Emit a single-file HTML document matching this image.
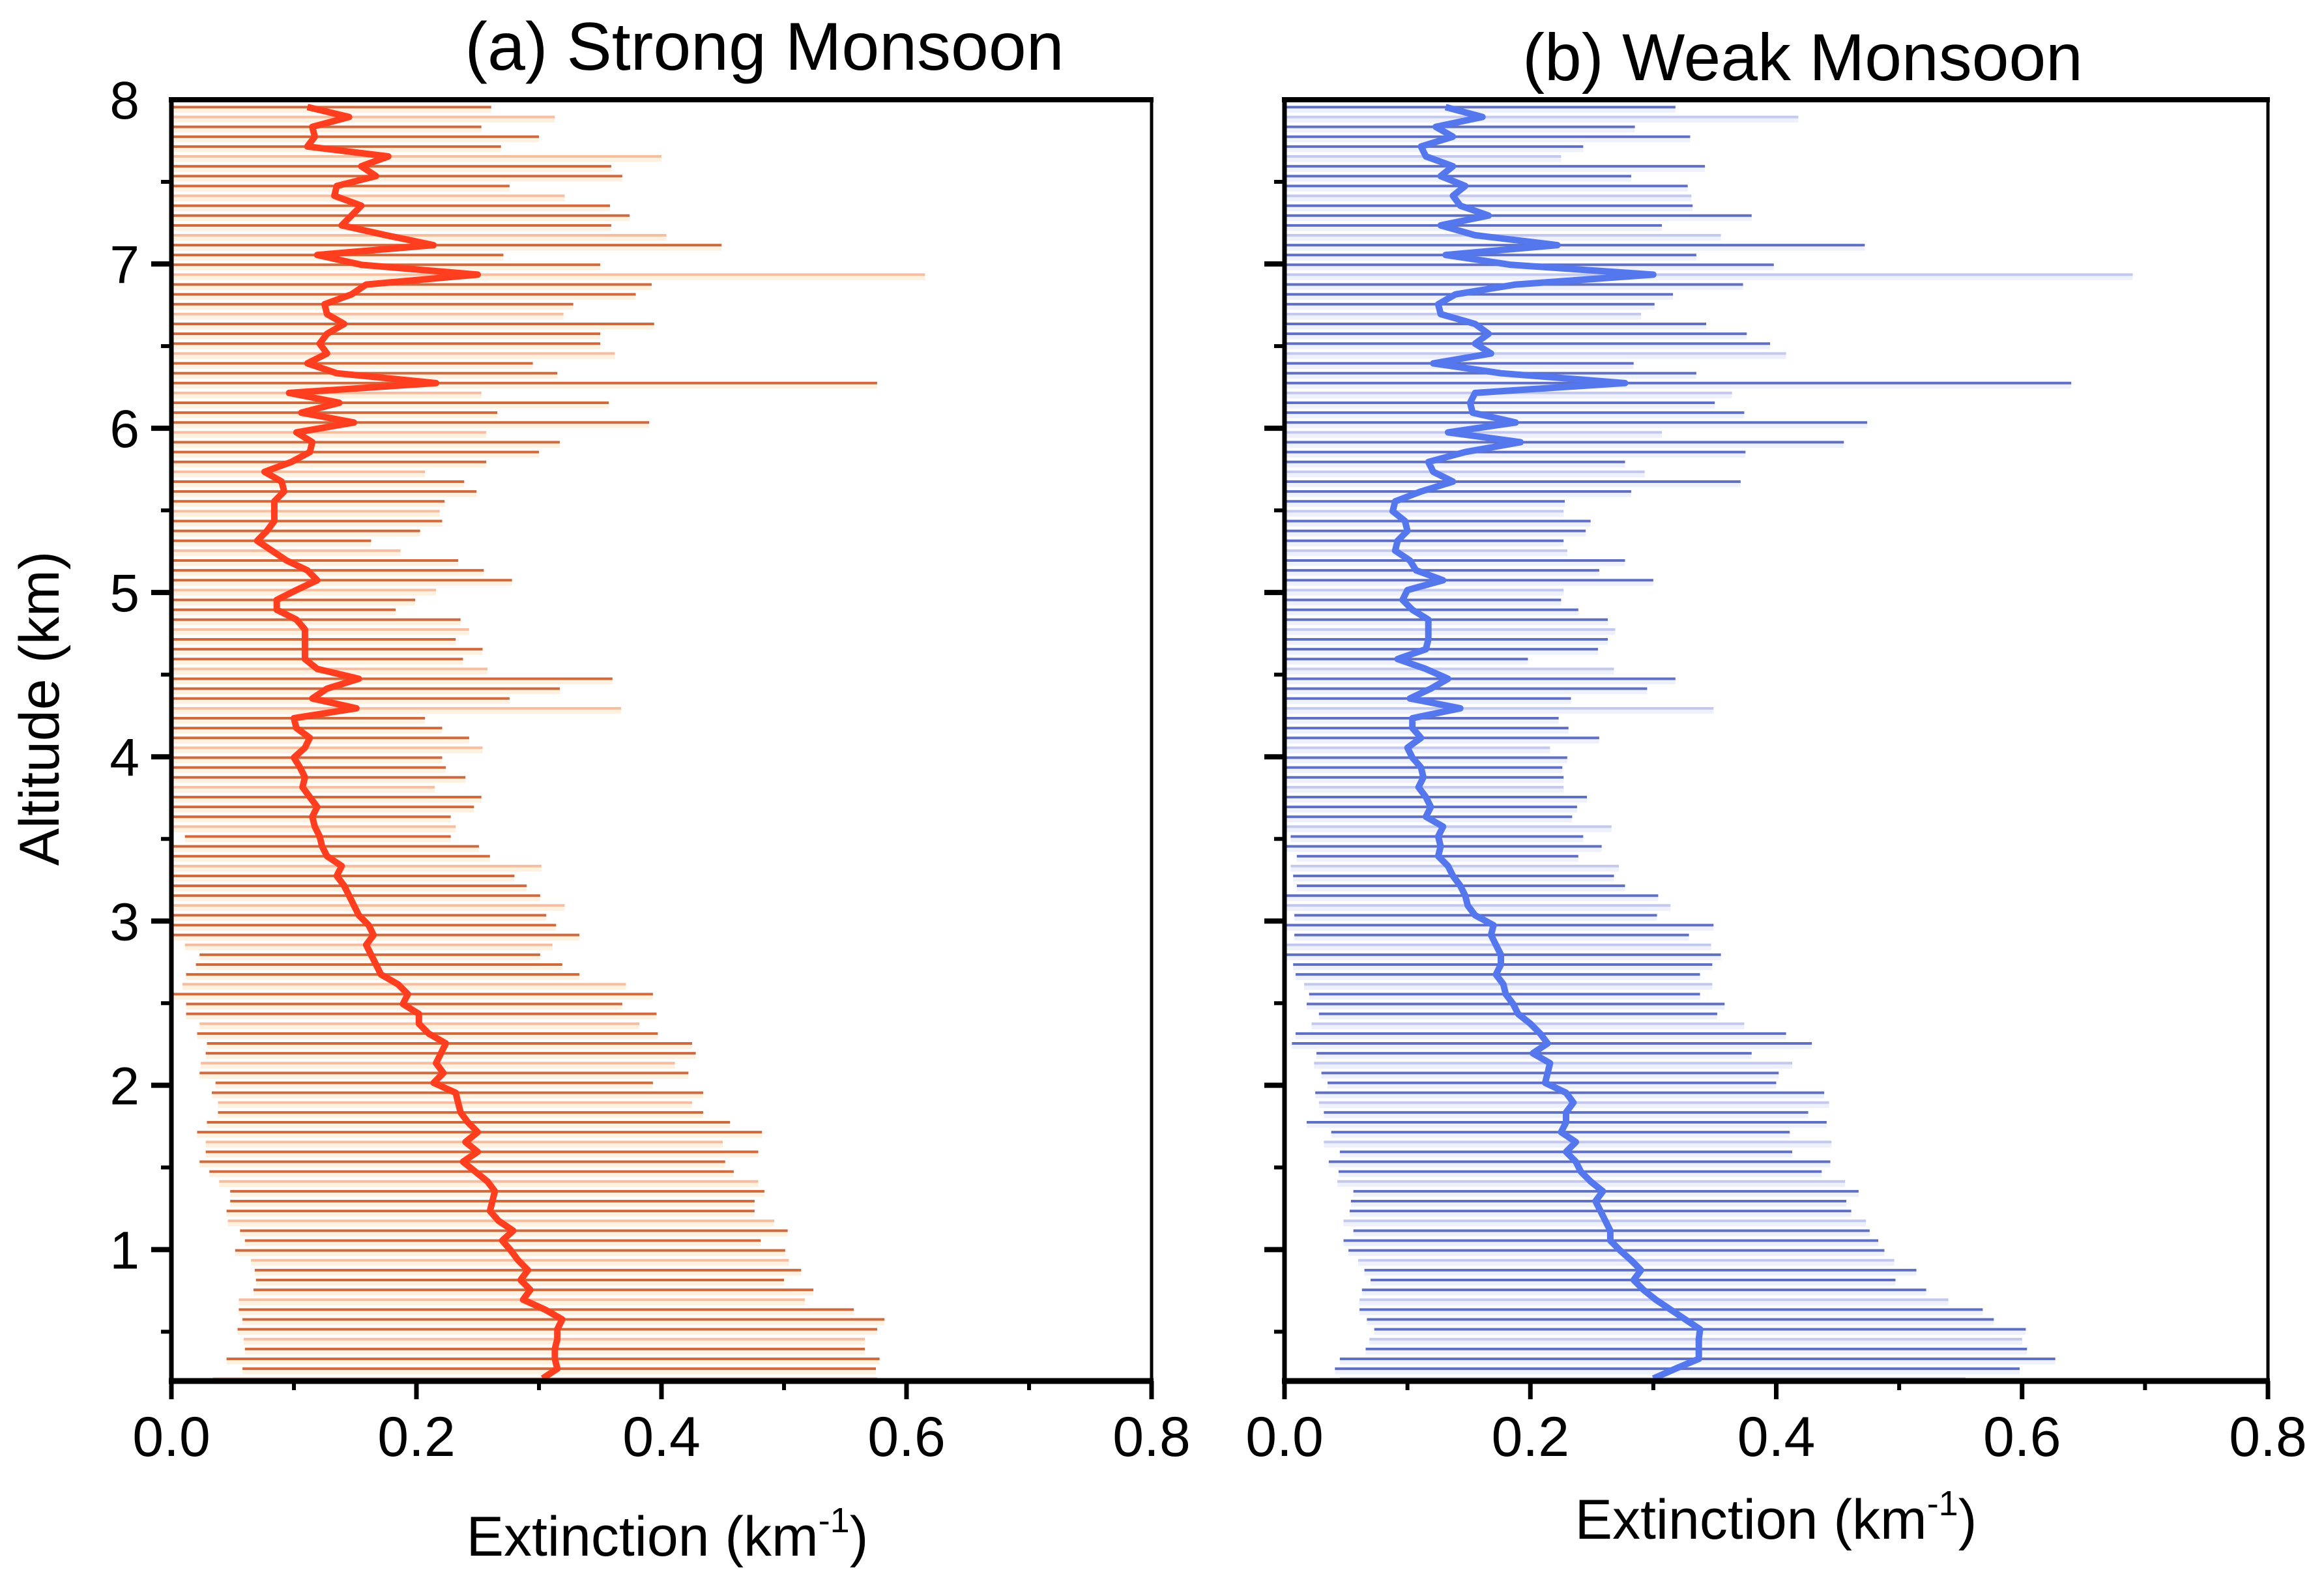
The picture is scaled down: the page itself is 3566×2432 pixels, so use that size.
<!DOCTYPE html>
<html><head><meta charset="utf-8"><title>Extinction profiles</title>
<style>
html,body{margin:0;padding:0;background:#fff;}
svg{display:block;font-family:"Liberation Sans",Arial,sans-serif;}
</style></head>
<body>
<svg id="chart" width="3566" height="2432" viewBox="0 0 3566 2432" xmlns="http://www.w3.org/2000/svg">
<rect width="3566" height="2432" fill="#fff"/>
<g id="panelA"></g>
<g id="panelB"></g>
<text x="1173" y="107" font-size="104" text-anchor="middle">(a) Strong Monsoon</text>
<text x="2766" y="123" font-size="102" text-anchor="middle">(b) Weak Monsoon</text>
<text transform="translate(90,1087) rotate(-90)" font-size="86" text-anchor="middle">Altitude (km)</text>
<text x="1024" y="2387" font-size="86" text-anchor="middle">Extinction (km<tspan font-size="54" dy="-36">-1</tspan><tspan dy="36">)</tspan></text>
<text x="2725" y="2361" font-size="86" text-anchor="middle">Extinction (km<tspan font-size="54" dy="-36">-1</tspan><tspan dy="36">)</tspan></text>
</svg>
<script>
// Altitude levels: index 0 = top level (km), fixed spacing
const altTop = 7.955;
const altStep = 0.06;
const xTicks = [0.0, 0.2, 0.4, 0.6, 0.8];
const xTickLabels = ["0.0", "0.2", "0.4", "0.6", "0.8"];
const yTicks = [1, 2, 3, 4, 5, 6, 7, 8];
const yTickLabels = ["1", "2", "3", "4", "5", "6", "7", "8"];

// Strong monsoon mean (top-down)
const strongMean = [
.111,.145,.115,.117,.111,.177,.155,.167,.135,.133,
.155,.147,.139,.175,.214,.119,.155,.250,.159,.147,
.125,.127,.141,.127,.121,.127,.111,.135,.216,.096,
.137,.106,.149,.102,.115,.113,.098,.076,.090,.092,
.084,.084,.084,.078,.070,.082,.094,.111,.119,.102,
.086,.086,.102,.109,.109,.109,.109,.119,.153,.127,
.115,.151,.100,.102,.113,
.109,.100,.105,.109,.107,.113,.119,.115,.117,.121,
.123,.127,.139,.135,.141,.145,.149,.153,.161,.165,
.159,.163,.167,.171,.185,.193,.189,.202,.202,.210,
.224,.220,.216,.222,.214,.232,.234,.236,.242,.250,
.240,.250,.238,.248,.258,.264,.262,.260,.267,.279,
.270,.277,.283,.291,.285,.293,.287,.305,.319,.315,
.315,.313,.313,.315,.303];
// Strong monsoon upper bound (top-down)
const strongHi = [
.261,.313,.253,.300,.269,.400,.359,.368,.276,.321,
.358,.374,.359,.404,.449,.271,.350,.615,.392,.379,
.328,.320,.394,.350,.350,.362,.295,.315,.576,.253,
.357,.266,.390,.257,.317,.300,.257,.207,.239,.249,
.223,.219,.221,.203,.163,.187,.234,.255,.278,.216,
.199,.183,.236,.243,.232,.254,.238,.258,.360,.317,
.276,.367,.207,.221,.243,
.254,.221,.224,.240,.215,.253,.247,.228,.232,.228,
.251,.260,.302,.280,.290,.301,.321,.306,.314,.333,
.311,.301,.319,.333,.371,.393,.368,.396,.382,.397,
.425,.428,.411,.422,.393,.434,.425,.434,.456,.482,
.450,.479,.452,.459,.479,.484,.476,.476,.492,.503,
.481,.501,.504,.514,.500,.524,.517,.557,.582,.576,
.566,.566,.578,.575,.576];
// Strong monsoon lower bound (top-down)
const strongLo = [
0,0,0,0,0,0,0,0,0,0, 0,0,0,0,0,0,0,0,0,0,
0,0,0,0,0,0,0,0,0,0, 0,0,0,0,0,0,0,0,0,0,
0,0,0,0,0,0,0,0,0,0, 0,0,0,0,0,0,0,0,0,0,
0,0,0,0,0,
0,0,0,0,0,0,0,0,0,.011,
0,0,0,0,0,0,0,0,0,0,
.011,.023,.020,.012,.009,0,.012,.012,.023,.021,
.029,.028,.024,.023,.036,.033,.038,.038,.029,.021,
.028,.028,.023,.031,.039,.048,.048,.045,.046,.056,
.060,.052,.065,.068,.069,.067,.055,.055,.058,.054,
.059,.060,.045,.058,.034];

// Weak monsoon mean (top-down)
const weakMean = [
.131,.161,.123,.137,.111,.115,.137,.127,.147,.137,
.143,.166,.127,.155,.222,.131,.184,.300,.188,.139,
.125,.127,.155,.166,.155,.168,.121,.176,.277,.155,
.151,.153,.188,.133,.192,.147,.117,.121,.137,.111,
.090,.088,.098,.100,.092,.090,.102,.107,.129,.100,
.096,.104,.117,.117,.117,.115,.092,.115,.133,.119,
.102,.143,.104,.104,.111,
.100,.104,.111,.113,.109,.115,.119,.115,.129,.125,
.127,.125,.133,.137,.143,.147,.149,.155,.170,.168,
.172,.176,.176,.172,.178,.180,.186,.190,.200,.208,
.214,.202,.216,.214,.212,.229,.235,.229,.229,.225,
.237,.229,.237,.241,.249,.259,.253,.257,.261,.265,
.265,.273,.282,.290,.284,.292,.302,.314,.326,.338,
.337,.337,.337,.318,.300];
// Weak monsoon upper bound (top-down)
const weakHi = [
.318,.418,.285,.330,.243,.225,.342,.282,.328,.331,
.332,.380,.307,.355,.472,.335,.398,.690,.373,.316,
.301,.290,.343,.376,.395,.408,.284,.335,.640,.364,
.350,.374,.474,.307,.455,.375,.277,.293,.371,.282,
.228,.227,.249,.245,.227,.230,.277,.256,.300,.227,
.225,.239,.263,.269,.263,.255,.198,.268,.318,.295,
.233,.349,.223,.231,.256,
.216,.230,.226,.227,.227,.246,.238,.234,.266,.243,
.258,.239,.272,.268,.277,.304,.314,.303,.349,.329,
.347,.355,.348,.338,.348,.338,.358,.352,.374,.408,
.429,.380,.413,.402,.400,.439,.443,.426,.441,.411,
.445,.413,.444,.437,.456,.467,.457,.461,.473,.476,
.483,.488,.496,.514,.497,.522,.540,.568,.577,.603,
.600,.604,.627,.598,.554];
// Weak monsoon lower bound (top-down)
const weakLo = [
0,0,0,0,0,0,0,0,0,0, 0,0,0,0,0,0,0,0,0,0,
0,0,0,0,0,0,0,0,0,0, 0,0,0,0,0,0,0,0,0,0,
0,0,0,0,0,0,0,0,0,0, 0,0,0,0,0,0,0,0,0,0,
0,0,0,0,0,
0,.001,0,0,0,.001,0,0,0,.005,
0,.010,.005,.007,.010,0,0,.008,0,.008,
0,0,.007,.009,.016,.020,.018,.028,.022,.009,
.006,.026,.024,.030,.035,.025,.028,.032,.018,.038,
.032,.045,.036,.044,.043,.056,.054,.053,.048,.056,
.048,.052,.060,.065,.070,.063,.061,.061,.067,.073,
.069,.066,.045,.041,.045];

const NS = "http://www.w3.org/2000/svg";
const yTopPx = 153, yBotPx = 2119, altMin = 0.2, altMax = 8;
function yScale(a){ return yTopPx + (altMax - a) / (altMax - altMin) * (yBotPx - yTopPx); }
function altAt(i){ return altTop - i * altStep; }
function mk(tag, attrs, parent){
  const e = document.createElementNS(NS, tag);
  for (const k in attrs) e.setAttribute(k, attrs[k]);
  parent.appendChild(e);
  return e;
}

function drawPanel(g, x0, x1, lo, hi, mean, colors, showYLabels, key){
  const xScale = v => x0 + v / 0.8 * (x1 - x0);
  const bars = mk("g", {}, g);
  
  
  for (let i = 0; i < hi.length; i++){
    const y = yScale(altAt(i));
    const xa = xScale(lo[i]), xb = xScale(hi[i]);
    const halo = mk("line", {x1: xa, x2: xb, y1: y + 4, y2: y + 4, stroke: colors.halo, "stroke-width": 9}, bars);
    
    
    const ln = mk("line", {x1: xa, x2: xb, y1: y, y2: y, stroke: (i % 4 === 1) ? colors.light : colors.dark, "stroke-width": 4}, bars);
    
    
  }
  let d = "";
  for (let i = 0; i < mean.length; i++){
    d += (i ? "L" : "M") + xScale(mean[i]).toFixed(1) + "," + yScale(altAt(i)).toFixed(1);
  }
  const ml = mk("path", {d: d, fill: "none", stroke: colors.mean, "stroke-width": 10, "stroke-linejoin": "round"}, g);
  
  

  const fr = mk("g", {stroke: "#000", fill: "none"}, g);
  
  
  mk("line", {x1: x0 - 4, x2: x1 + 3, y1: yTopPx, y2: yTopPx, "stroke-width": 8}, fr);
  mk("line", {x1: x0 - 4, x2: x1 + 3, y1: yBotPx, y2: yBotPx, "stroke-width": 9}, fr);
  mk("line", {x1: x0, x2: x0, y1: yTopPx, y2: yBotPx, "stroke-width": 7}, fr);
  mk("line", {x1: x1, x2: x1, y1: yTopPx, y2: yBotPx, "stroke-width": 5}, fr);

  for (let k = 0; k <= 8; k++){
    const v = k / 10, x = xScale(v), major = (k % 2 === 0);
    const t = mk("line", {x1: x, x2: x, y1: yBotPx, y2: yBotPx + (major ? 28 : 14), stroke: "#000", "stroke-width": major ? 7 : 6}, g);
    
    
  }
  xTicks.forEach((v, j) => {
    const tx = mk("text", {x: xScale(v), y: 2234, "font-size": 86, "text-anchor": "middle"}, g);
    tx.textContent = xTickLabels[j];
    
    
  });
  for (let k = 1; k <= 15; k++){
    const a = k * 0.5, y = yScale(a), major = (k % 2 === 0);
    const t = mk("line", {x1: x0 - (major ? 31 : 16), x2: x0, y1: y, y2: y, stroke: "#000", "stroke-width": major ? 8 : 6}, g);
    
    
  }
  if (showYLabels){
    yTicks.forEach((v, j) => {
      const ty = mk("text", {x: 214, y: yScale(v) + 29, "font-size": 82, "text-anchor": "end"}, g);
      ty.textContent = yTickLabels[j];
      
      
    });
  }
}

drawPanel(document.getElementById("panelA"), 263, 1767, strongLo, strongHi, strongMean,
  {dark: "#cf6a3e", light: "#f6bea0", halo: "rgba(255,225,185,0.45)", mean: "#ff3d1f"}, true, "strong");
drawPanel(document.getElementById("panelB"), 1971, 3480, weakLo, weakHi, weakMean,
  {dark: "#5f70c4", light: "#c3c9ee", halo: "rgba(205,212,245,0.35)", mean: "#5577ee"}, false, "weak");
</script>
</body></html>
